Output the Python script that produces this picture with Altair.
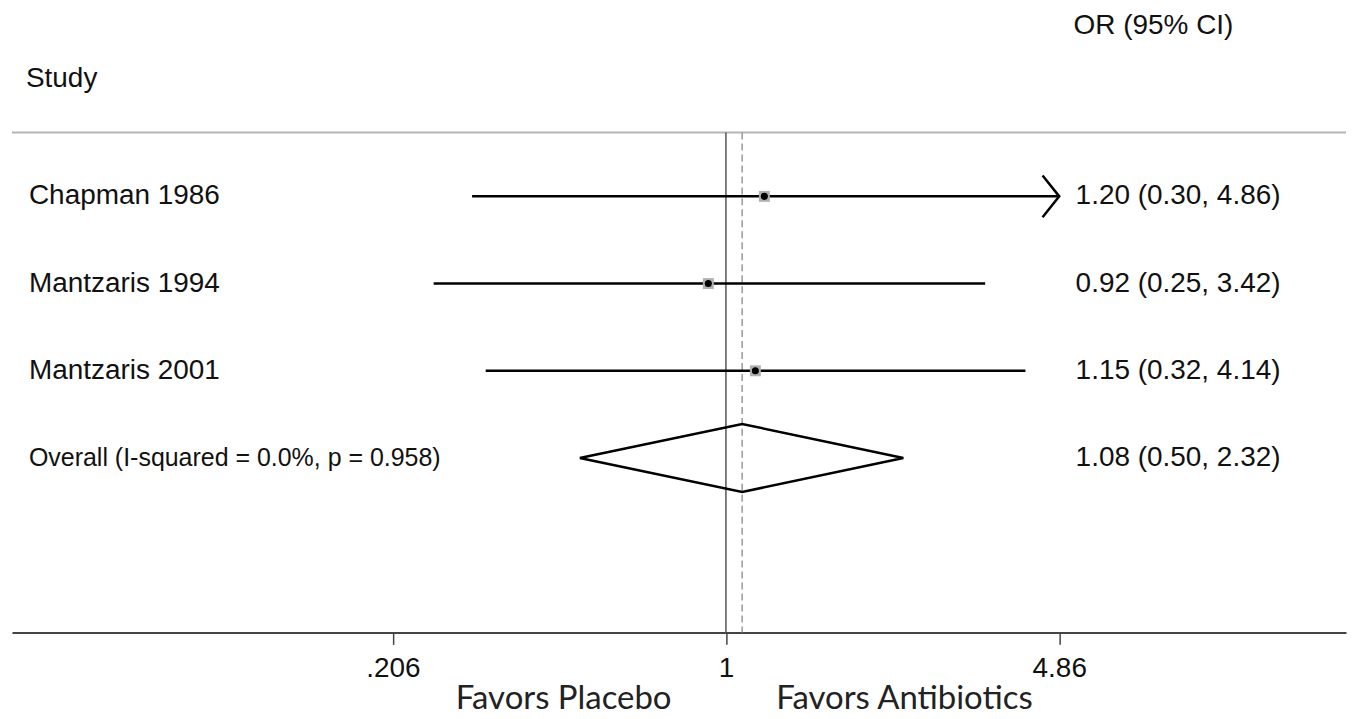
import altair as alt
import pandas as pd

# ---- data ----
studies = ["Chapman 1986", "Mantzaris 1994", "Mantzaris 2001"]
or_est = [1.20, 0.92, 1.15]
ci_low = [0.30, 0.25, 0.32]
ci_high = [4.86, 3.42, 4.14]
study_rows = [1, 2, 3]

overall_label = "Overall (I-squared = 0.0%, p = 0.958)"
overall_est = [1.08]
overall_low = [0.50]
overall_high = [2.32]
overall_row = [4]

tick_values = [0.206, 1, 4.86]
tick_labels = [".206", "1", "4.86"]
clip_max = 4.86  # CI beyond the displayed range gets an arrow

header_study = "Study"
header_or = "OR (95% CI)"
favors_left = "Favors Placebo"
favors_right = "Favors Antibiotics"

# ---- layout constants (style) ----
W, H = 1337, 625
TOP_RULE = 0.268
BOTTOM = 6.0
DIAMOND_HALF = 0.39
ARROW_HALF = 0.24
ARROW_BACK = 0.924

x_scale = alt.Scale(type="log", domain=[0.03383, 18.94], nice=False, zero=False)
y_scale = alt.Scale(domain=[-1.151, BOTTOM], reverse=True, nice=False, zero=False)

expr = "''"
for v, lab in reversed(list(zip(tick_values, tick_labels))):
    expr = f"abs(datum.value - {v}) < 1e-6 ? '{lab}' : ({expr})"

x_axis = alt.Axis(
    values=tick_values, labelExpr=expr, title=None, grid=False,
    domainColor="#444", domainWidth=2, tickColor="#444", tickWidth=1.5,
    tickSize=12, labelFont="Liberation Sans", labelFontSize=28,
    labelColor="#111", labelPadding=10, labelOverlap=False, labelFlush=False,
    labelBound=False,
)

def X(field):
    return alt.X(field, type="quantitative", scale=x_scale, axis=x_axis)

def Y(field):
    return alt.Y(field, type="quantitative", scale=y_scale, axis=None)

studies_df = pd.DataFrame({
    "study": studies, "est": or_est, "lo": ci_low,
    "hi": [min(h, clip_max) for h in ci_high], "row": study_rows,
    "label": [f"{e:.2f} ({l:.2f}, {h:.2f})" for e, l, h in zip(or_est, ci_low, ci_high)],
})
overall_df = pd.DataFrame({
    "study": [overall_label], "est": overall_est, "lo": overall_low,
    "hi": overall_high, "row": overall_row,
    "label": [f"{e:.2f} ({l:.2f}, {h:.2f})" for e, l, h in zip(overall_est, overall_low, overall_high)],
})

# diamond polygon
dpts = []
for e, l, h, r in zip(overall_est, overall_low, overall_high, overall_row):
    dpts += [
        {"x": l, "y": r, "o": 0},
        {"x": e, "y": r - DIAMOND_HALF, "o": 1},
        {"x": h, "y": r, "o": 2},
        {"x": e, "y": r + DIAMOND_HALF, "o": 3},
        {"x": l, "y": r, "o": 4},
    ]
diamond_df = pd.DataFrame(dpts)

# arrowheads for clipped CIs
apts = []
for s, h, r in zip(studies, ci_high, study_rows):
    if h >= clip_max:
        apts += [
            {"g": s, "x": clip_max * ARROW_BACK, "y": r - ARROW_HALF, "o": 0},
            {"g": s, "x": clip_max, "y": r, "o": 1},
            {"g": s, "x": clip_max * ARROW_BACK, "y": r + ARROW_HALF, "o": 2},
        ]
arrow_df = pd.DataFrame(apts)

null_df = pd.DataFrame({"x": [1.0], "y1": [TOP_RULE], "y2": [BOTTOM]})
eff_df = pd.DataFrame({"x": overall_est, "y1": [TOP_RULE], "y2": [BOTTOM]})
top_df = pd.DataFrame({"y": [TOP_RULE]})

FONT = "Liberation Sans"

top_rule = alt.Chart(top_df).mark_rule(color="#b5b5b5", strokeWidth=2).encode(
    y=Y("y"), x=alt.value(0), x2=alt.value(W))

null_line = alt.Chart(null_df).mark_rule(color="#555", strokeWidth=1.5).encode(
    x=X("x"), y=Y("y1"), y2="y2")

eff_line = alt.Chart(eff_df).mark_rule(color="#999", strokeWidth=1.5, strokeDash=[7, 4]).encode(
    x=X("x"), y=Y("y1"), y2="y2")

ci_lines = alt.Chart(studies_df).mark_rule(color="#000", strokeWidth=2.5).encode(
    x=X("lo"), x2="hi", y=Y("row"))

arrows = alt.Chart(arrow_df).mark_line(color="#000", strokeWidth=2.5).encode(
    x=X("x"), y=Y("y"), order="o:Q", detail="g:N")

boxes = alt.Chart(studies_df).mark_square(color="#b0b0b0", size=120, opacity=1).encode(
    x=X("est"), y=Y("row"))
dots = alt.Chart(studies_df).mark_circle(color="#000", size=50, opacity=1).encode(
    x=X("est"), y=Y("row"))

diamond = alt.Chart(diamond_df).mark_line(color="#000", strokeWidth=2.5).encode(
    x=X("x"), y=Y("y"), order="o:Q")

left_text = alt.Chart(studies_df).mark_text(
    align="left", baseline="middle", font=FONT, fontSize=28, color="#111").encode(
    x=alt.value(17), y=Y("row"), text="study:N")
left_overall = alt.Chart(overall_df).mark_text(
    align="left", baseline="middle", font=FONT, fontSize=25, color="#111").encode(
    x=alt.value(17), y=Y("row"), text="study:N")

right_text = alt.Chart(pd.concat([studies_df, overall_df])).mark_text(
    align="left", baseline="middle", font=FONT, fontSize=28, color="#111").encode(
    x=alt.value(1066), y=Y("row"), text="label:N")

hdr_df = pd.DataFrame({"t": [header_study, header_or], "y": [-0.344, -0.951], "x": [14, 1064]})
headers = alt.Chart(hdr_df).mark_text(
    align="left", baseline="middle", font=FONT, fontSize=28, color="#111").encode(
    x=alt.X("x:Q", scale=None), y=Y("y"), text="t:N")

fav_df = pd.DataFrame({"t": [favors_left, favors_right]})
fav_l = alt.Chart(fav_df.iloc[[0]]).mark_text(
    align="right", baseline="alphabetic", font="Lato", fontSize=33, color="#222").encode(
    x=alt.value(661), y=alt.value(702), text="t:N")
fav_r = alt.Chart(fav_df.iloc[[1]]).mark_text(
    align="left", baseline="alphabetic", font="Lato", fontSize=33, color="#222").encode(
    x=alt.value(766), y=alt.value(702), text="t:N")

chart = alt.layer(
    top_rule, null_line, eff_line, ci_lines, arrows, boxes, dots, diamond,
    left_text, left_overall, right_text, headers, fav_l, fav_r,
).properties(
    width=W, height=H,
    padding={"left": 3, "right": 0, "top": 0, "bottom": 0},
    background="white",
).configure_view(stroke=None)

chart.save("out.html", embed_options={"renderer": "svg", "actions": False})
